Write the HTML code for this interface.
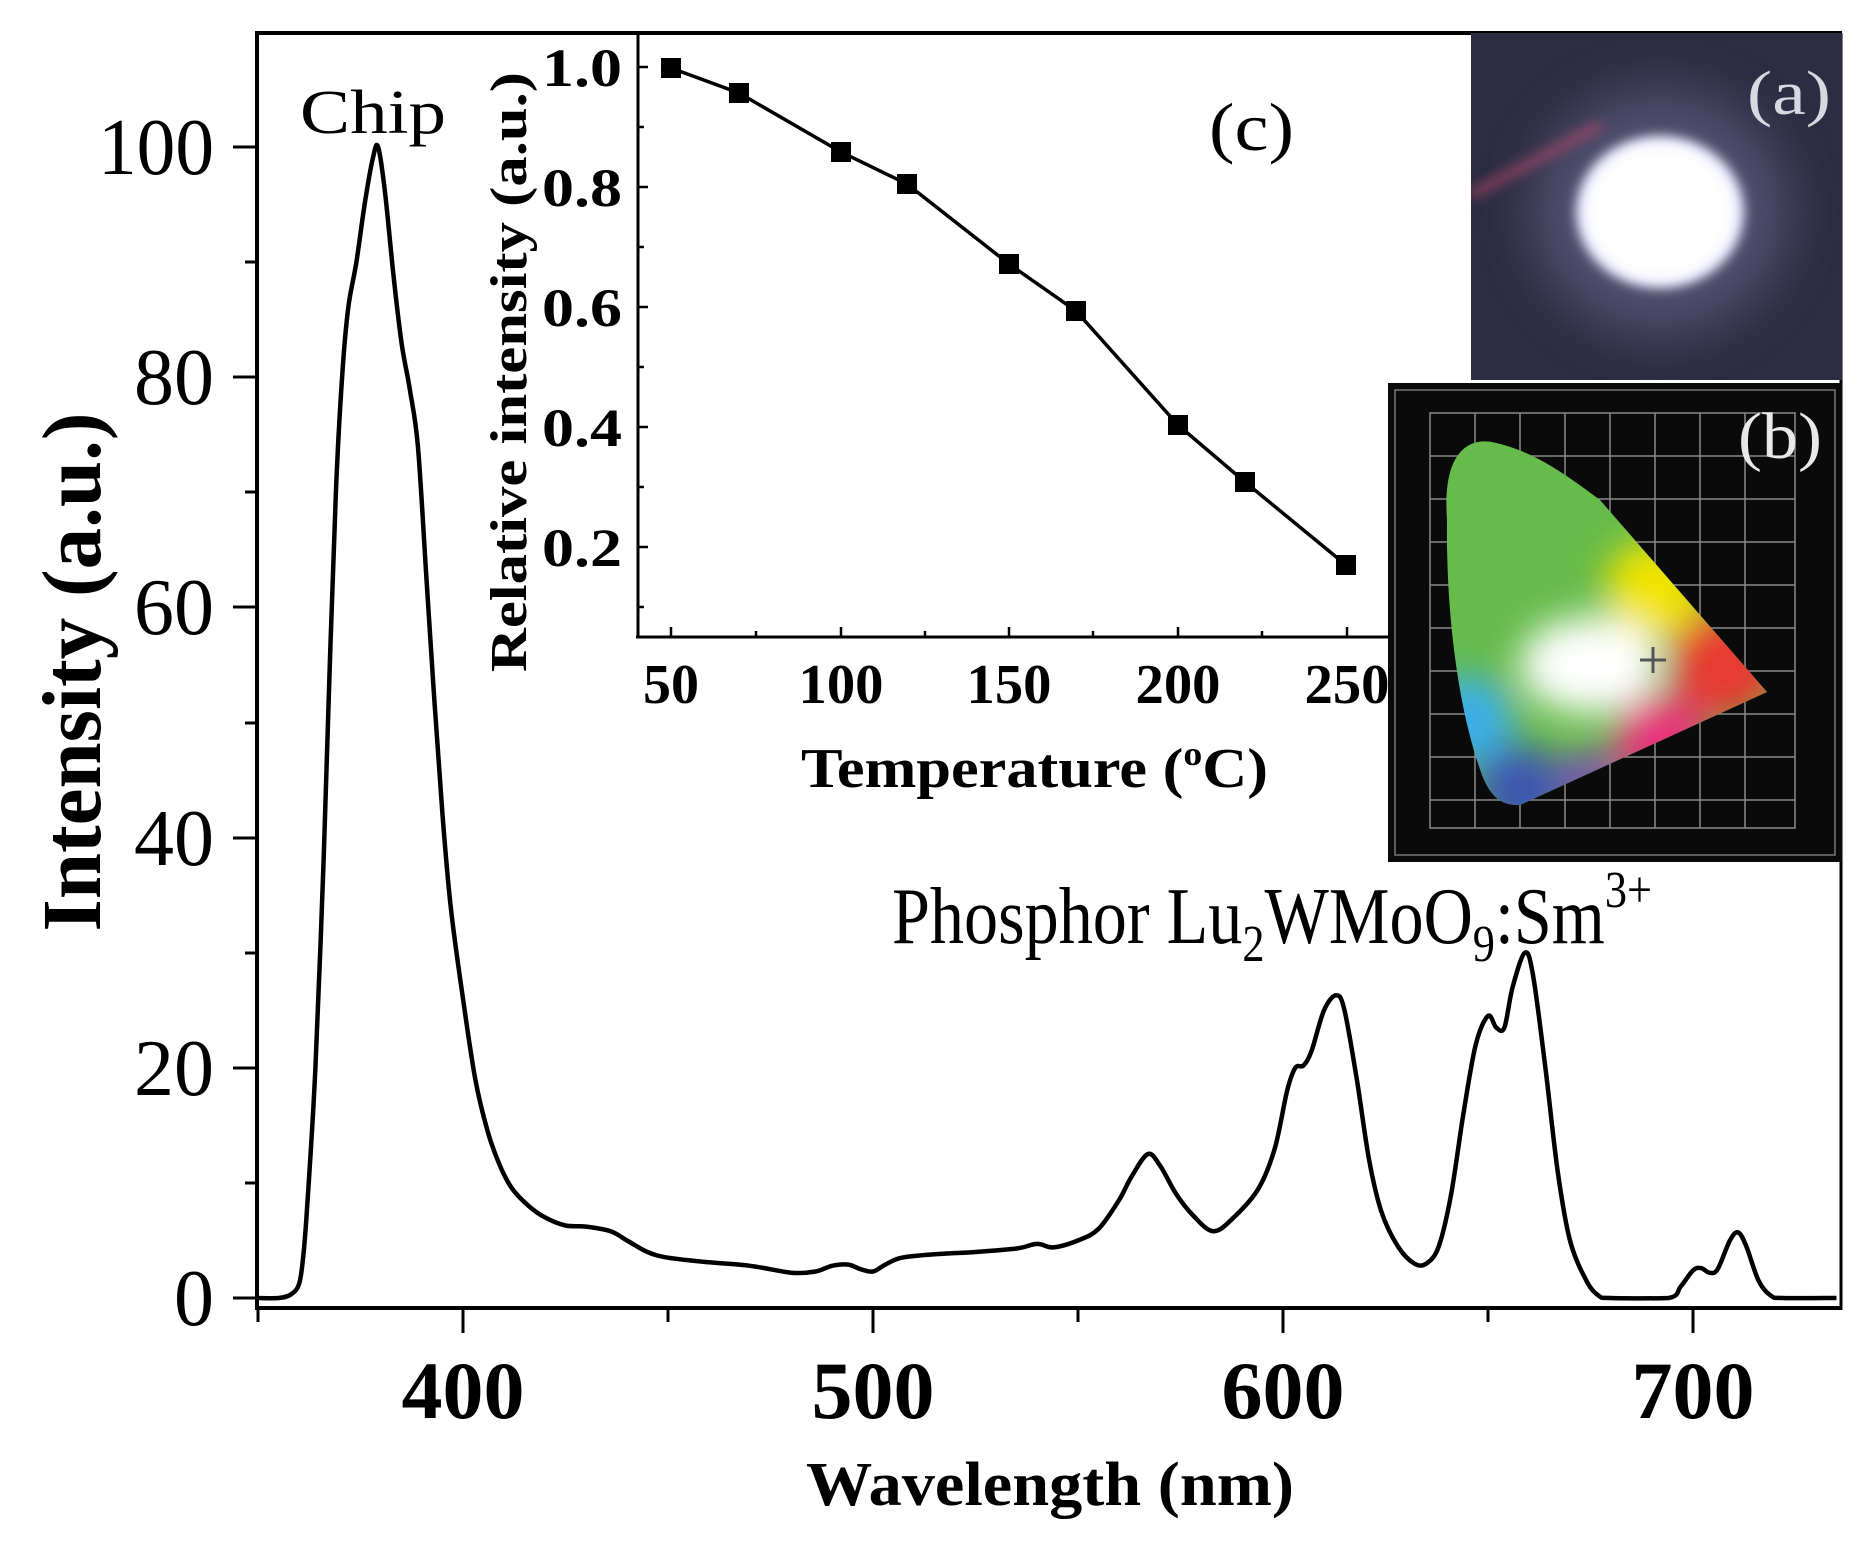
<!DOCTYPE html>
<html><head><meta charset="utf-8"><style>
html,body{margin:0;padding:0;background:#fff;}
svg{display:block;}
text{font-family:"Liberation Serif","Times New Roman",Tinos,serif;fill:#000;}
</style></head><body>
<svg width="1865" height="1544" viewBox="0 0 1865 1544" xmlns="http://www.w3.org/2000/svg" font-family="Liberation Serif, Times New Roman, serif">
<defs>
<clipPath id="hs"><path d="M1447,520 C1442,450 1470,438 1492,442 C1530,450 1560,470 1600,500 L1767,692 L1520,805 C1500,806 1490,795 1482,775 C1455,700 1446,600 1447,520 Z"/></clipPath>
<filter id="bl" x="-50%" y="-50%" width="200%" height="200%"><feGaussianBlur stdDeviation="18"/></filter>
<filter id="bl2" x="-50%" y="-50%" width="200%" height="200%"><feGaussianBlur stdDeviation="6"/></filter>
<filter id="bl3" x="-50%" y="-50%" width="200%" height="200%"><feGaussianBlur stdDeviation="25"/></filter>
</defs>

<!-- main axes frame -->
<line x1="257" y1="33" x2="1842" y2="33" stroke="#000" stroke-width="4"/>
<line x1="257" y1="31" x2="257" y2="1310" stroke="#000" stroke-width="4"/>
<line x1="255" y1="1308" x2="1842" y2="1308" stroke="#000" stroke-width="4"/>
<line x1="1841" y1="33" x2="1841" y2="1310" stroke="#000" stroke-width="3"/>

<g stroke="#000" stroke-width="3">
<line x1="233" y1="1298" x2="257" y2="1298"/><line x1="245" y1="1183" x2="257" y2="1183"/>
<line x1="233" y1="1068" x2="257" y2="1068"/><line x1="245" y1="953" x2="257" y2="953"/>
<line x1="233" y1="838" x2="257" y2="838"/><line x1="245" y1="723" x2="257" y2="723"/>
<line x1="233" y1="607" x2="257" y2="607"/><line x1="245" y1="492" x2="257" y2="492"/>
<line x1="233" y1="377" x2="257" y2="377"/><line x1="245" y1="262" x2="257" y2="262"/>
<line x1="233" y1="147" x2="257" y2="147"/>
<line x1="258" y1="1308" x2="258" y2="1322"/>
<line x1="463" y1="1308" x2="463" y2="1333"/><line x1="668" y1="1308" x2="668" y2="1322"/>
<line x1="873" y1="1308" x2="873" y2="1333"/><line x1="1078" y1="1308" x2="1078" y2="1322"/>
<line x1="1283" y1="1308" x2="1283" y2="1333"/><line x1="1488" y1="1308" x2="1488" y2="1322"/>
<line x1="1693" y1="1308" x2="1693" y2="1333"/>
</g>
<g font-size="80" text-anchor="end">
<text x="214" y="1325">0</text>
<text x="214" y="1095">20</text>
<text x="214" y="865">40</text>
<text x="214" y="634">60</text>
<text x="214" y="404">80</text>
<text x="214" y="174" textLength="116" lengthAdjust="spacingAndGlyphs">100</text>
</g>
<g font-size="82" font-weight="bold" text-anchor="middle">
<text x="463" y="1418" textLength="123" lengthAdjust="spacingAndGlyphs">400</text>
<text x="873" y="1418" textLength="123" lengthAdjust="spacingAndGlyphs">500</text>
<text x="1283" y="1418" textLength="123" lengthAdjust="spacingAndGlyphs">600</text>
<text x="1693" y="1418" textLength="123" lengthAdjust="spacingAndGlyphs">700</text>
</g>
<text x="1050" y="1505" font-size="62" font-weight="bold" text-anchor="middle" textLength="488" lengthAdjust="spacingAndGlyphs">Wavelength (nm)</text>
<text transform="translate(100,672) rotate(-90)" font-size="84" font-weight="bold" text-anchor="middle" textLength="519" lengthAdjust="spacingAndGlyphs">Intensity (a.u.)</text>
<text x="300" y="133" font-size="62" textLength="146" lengthAdjust="spacingAndGlyphs">Chip</text>
<text x="892" y="943" font-size="80" textLength="760" lengthAdjust="spacingAndGlyphs">Phosphor Lu<tspan font-size="52" dy="18">2</tspan><tspan dy="-18">WMoO</tspan><tspan font-size="52" dy="18">9</tspan><tspan dy="-18">:Sm</tspan><tspan font-size="52" dy="-36">3+</tspan></text>

<path id="spec" fill="none" stroke="#000" stroke-width="4.5" stroke-linejoin="round"/>

<!-- inset c -->
<line x1="638" y1="33" x2="638" y2="637" stroke="#000" stroke-width="3"/>
<line x1="636" y1="637" x2="1388" y2="637" stroke="#000" stroke-width="3"/>
<g stroke="#000" stroke-width="2.5">
<line x1="638" y1="67" x2="648" y2="67"/><line x1="638" y1="127" x2="644" y2="127"/>
<line x1="638" y1="187" x2="648" y2="187"/><line x1="638" y1="247" x2="644" y2="247"/>
<line x1="638" y1="307" x2="648" y2="307"/><line x1="638" y1="367" x2="644" y2="367"/>
<line x1="638" y1="427" x2="648" y2="427"/><line x1="638" y1="487" x2="644" y2="487"/>
<line x1="638" y1="547" x2="648" y2="547"/><line x1="638" y1="607" x2="644" y2="607"/>
<line x1="671" y1="637" x2="671" y2="627"/><line x1="756" y1="637" x2="756" y2="631"/>
<line x1="841" y1="637" x2="841" y2="627"/><line x1="925" y1="637" x2="925" y2="631"/>
<line x1="1009" y1="637" x2="1009" y2="627"/><line x1="1093" y1="637" x2="1093" y2="631"/>
<line x1="1178" y1="637" x2="1178" y2="627"/><line x1="1262" y1="637" x2="1262" y2="631"/>
<line x1="1347" y1="637" x2="1347" y2="627"/>
</g>
<g font-size="54" font-weight="bold" text-anchor="end">
<text x="622" y="86" textLength="80" lengthAdjust="spacingAndGlyphs">1.0</text>
<text x="622" y="206" textLength="80" lengthAdjust="spacingAndGlyphs">0.8</text>
<text x="622" y="326" textLength="80" lengthAdjust="spacingAndGlyphs">0.6</text>
<text x="622" y="446" textLength="80" lengthAdjust="spacingAndGlyphs">0.4</text>
<text x="622" y="566" textLength="80" lengthAdjust="spacingAndGlyphs">0.2</text>
</g>
<g font-size="56" font-weight="bold" text-anchor="middle">
<text x="671" y="703" textLength="56" lengthAdjust="spacingAndGlyphs">50</text>
<text x="841" y="703" textLength="85" lengthAdjust="spacingAndGlyphs">100</text>
<text x="1009" y="703" textLength="85" lengthAdjust="spacingAndGlyphs">150</text>
<text x="1178" y="703" textLength="85" lengthAdjust="spacingAndGlyphs">200</text>
<text x="1347" y="703" textLength="85" lengthAdjust="spacingAndGlyphs">250</text>
</g>
<text x="801" y="787" font-size="56" font-weight="bold" textLength="467" lengthAdjust="spacingAndGlyphs">Temperature (<tspan font-size="34" dy="-22" font-weight="bold">o</tspan><tspan dy="22">C)</tspan></text>
<text transform="translate(526,372) rotate(-90)" font-size="52" font-weight="bold" text-anchor="middle" textLength="600" lengthAdjust="spacingAndGlyphs">Relative intensity (a.u.)</text>
<text x="1209" y="150" font-size="68" textLength="85" lengthAdjust="spacingAndGlyphs">(c)</text>
<polyline points="671,68 739,93 841,152 907,184 1009,264 1076,311 1178,425 1245,482 1346,565" fill="none" stroke="#000" stroke-width="3.5"/>
<g fill="#000">
<rect x="661" y="58" width="20" height="20"/><rect x="729" y="83" width="20" height="20"/>
<rect x="831" y="142" width="20" height="20"/><rect x="897" y="174" width="20" height="20"/>
<rect x="999" y="254" width="20" height="20"/><rect x="1066" y="301" width="20" height="20"/>
<rect x="1168" y="415" width="20" height="20"/><rect x="1235" y="472" width="20" height="20"/>
<rect x="1336" y="555" width="20" height="20"/>
</g>

<!-- photo a -->
<svg x="1471" y="33" width="371" height="347" overflow="hidden">
<rect x="0" y="0" width="371" height="347" fill="#25253a"/>
<rect x="0" y="0" width="371" height="347" fill="#3a3a55" opacity="0.35"/>
<ellipse cx="189" cy="179" rx="130" ry="125" fill="#6a6a90" opacity="0.55" filter="url(#bl3)"/>
<path d="M0,162 L130,92" stroke="#b04a66" stroke-width="9" opacity="0.75" filter="url(#bl2)"/>
<ellipse cx="189" cy="179" rx="84" ry="76" fill="#e8e8ff" filter="url(#bl2)"/>
<ellipse cx="189" cy="179" rx="74" ry="68" fill="#fff" filter="url(#bl2)"/>
</svg>
<text x="1747" y="114" font-size="62" style="fill:#d8d8e0" textLength="84" lengthAdjust="spacingAndGlyphs">(a)</text>

<!-- panel b -->
<rect x="1388" y="383" width="454" height="479" fill="#0a0a0a"/>
<rect x="1395" y="390" width="440" height="465" fill="none" stroke="#777" stroke-width="1.5"/>
<g stroke="#8a8a8a" stroke-width="1.5" fill="none">
<rect x="1430" y="413" width="365" height="415"/>
<path d="M1475,413V828M1520,413V828M1565,413V828M1610,413V828M1655,413V828M1700,413V828M1745,413V828
M1430,456H1795M1430,499H1795M1430,542H1795M1430,585H1795M1430,628H1795M1430,671H1795M1430,714H1795M1430,757H1795M1430,800H1795"/>
</g>
<g clip-path="url(#hs)">
<rect x="1430" y="430" width="350" height="390" fill="#66bb4a"/>
<g filter="url(#bl)">
<circle cx="1655" cy="590" r="50" fill="#f2e400"/>
<circle cx="1725" cy="665" r="55" fill="#e83a30"/>
<circle cx="1660" cy="740" r="45" fill="#e8307a"/>
<circle cx="1468" cy="720" r="45" fill="#3aaee8"/>
<circle cx="1520" cy="790" r="45" fill="#3d56b0"/>
<circle cx="1590" cy="780" r="30" fill="#7a50b0"/>
<ellipse cx="1590" cy="665" rx="70" ry="48" fill="#fff"/>
</g>
</g>
<path d="M1640,660h26M1653,647v26" stroke="#555" stroke-width="3"/>
<text x="1738" y="458" font-size="66" style="fill:#e8e8e8" textLength="84" lengthAdjust="spacingAndGlyphs">(b)</text>
</svg>
<script>
var P=[[350,0],[355,0],[358,0.3],[360,1.2],[361,3.5],[362,8],[364,20],[366,38],[367.5,55],[369,70],[370.5,80],[372,86],[374,90],[376,95],[378,99],[379.3,100],[381,96],[383,89],[385,83],[387,79],[389,74],[391,63],[393,52],[395,42],[397,34],[400,26],[403,19],[406,14.5],[409,11.5],[412,9.5],[416,8],[420,7],[425,6.3],[430,6.2],[436,5.8],[440,5],[445,4],[450,3.5],[460,3.1],[470,2.8],[480,2.2],[486,2.3],[490,2.8],[494,2.9],[497,2.5],[500,2.3],[503,2.9],[507,3.5],[515,3.8],[525,4.0],[535,4.3],[540,4.7],[544,4.4],[550,5],[555,6],[560,8.5],[563,10.5],[567,12.5],[570,11.5],[574,9],[578,7.2],[583,5.8],[588,7],[594,9.5],[598,13],[601,18],[603,20],[605,20.2],[607,21.5],[610,25],[613,26.3],[615,25],[618,19],[621,12],[624,7.5],[628,4.5],[632,3],[635,3],[638,4.5],[641,9],[644,16],[647,22],[650,24.5],[652,23.5],[654,23.5],[656,27],[659,30],[661,28],[664,20],[667,11],[670,5],[674,1.5],[677,0.2],[680,0],[694,0],[697,1],[700,2.4],[702,2.6],[704,2.2],[706,2.5],[709,5],[711,5.7],[713,4.5],[716,1.5],[719,0.2],[722,0],[735,0]];
var Q=P.map(function(p){return [463+(p[0]-400)*4.1,1298-p[1]*11.51];});
var d="M"+Q[0][0].toFixed(1)+","+Q[0][1].toFixed(1);
for(var i=0;i<Q.length-1;i++){var p0=Q[Math.max(i-1,0)],p1=Q[i],p2=Q[i+1],p3=Q[Math.min(i+2,Q.length-1)];
var c1x=p1[0]+(p2[0]-p0[0])/6,c1y=p1[1]+(p2[1]-p0[1])/6,c2x=p2[0]-(p3[0]-p1[0])/6,c2y=p2[1]-(p3[1]-p1[1])/6;
c1y=Math.min(c1y,1298.5);c2y=Math.min(c2y,1298.5);
d+="C"+c1x.toFixed(1)+","+c1y.toFixed(1)+" "+c2x.toFixed(1)+","+c2y.toFixed(1)+" "+p2[0].toFixed(1)+","+p2[1].toFixed(1);}
document.getElementById("spec").setAttribute("d",d);
</script>
</body></html>
